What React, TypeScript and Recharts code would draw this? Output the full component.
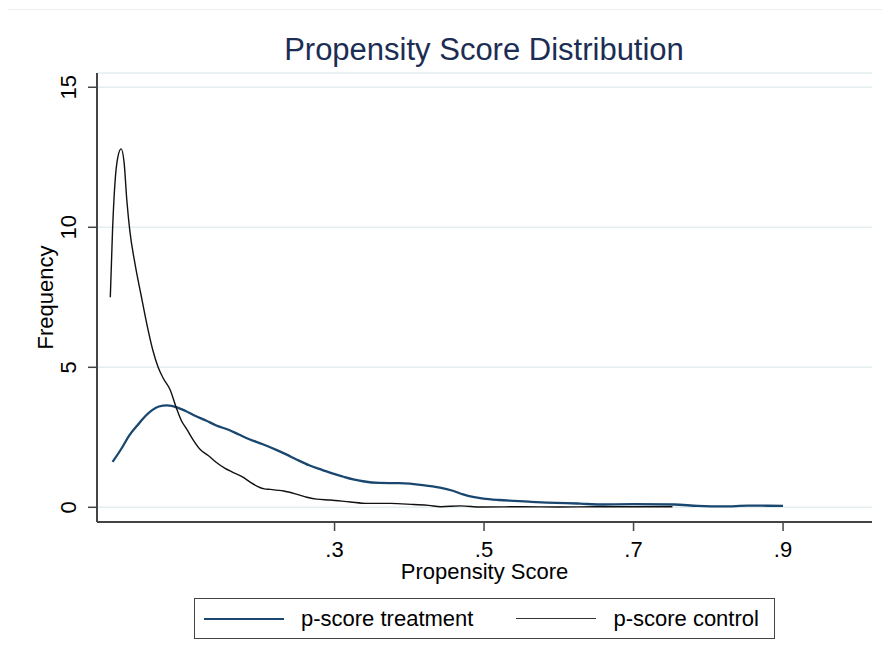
import React from "react";
import {
  LineChart, Line, XAxis, YAxis, CartesianGrid, Label,
} from "recharts";

// kernel density estimates of the propensity score, by group
const treatScore = [
  0.003, 0.015, 0.025, 0.037, 0.047, 0.056, 0.065, 0.076, 0.09, 0.1, 0.114, 0.128, 0.141, 0.159,
  0.172, 0.186, 0.204, 0.222, 0.236, 0.249, 0.266, 0.284, 0.298, 0.311, 0.325, 0.338, 0.36, 0.387,
  0.418, 0.441, 0.457, 0.472, 0.485, 0.499, 0.52, 0.539, 0.56, 0.584, 0.61, 0.629, 0.656, 0.7,
  0.754, 0.786, 0.821, 0.853, 0.9,
];
const treatDensity = [
  1.62, 2.1, 2.55, 2.95, 3.26, 3.47, 3.6, 3.64, 3.56, 3.45, 3.26, 3.1, 2.93, 2.76,
  2.6, 2.43, 2.25, 2.05, 1.88, 1.71, 1.5, 1.33, 1.2, 1.1, 1.0, 0.93, 0.87, 0.86,
  0.79, 0.7, 0.6, 0.46, 0.37, 0.31, 0.26, 0.23, 0.2, 0.17, 0.15, 0.13, 0.1, 0.11,
  0.1, 0.05, 0.03, 0.06, 0.05,
];

const controlScore = [
  0.0, 0.003, 0.006, 0.01, 0.0145, 0.0185, 0.022, 0.026, 0.033, 0.041, 0.05, 0.057, 0.064, 0.071,
  0.08, 0.089, 0.095, 0.102, 0.111, 0.12, 0.131, 0.142, 0.153, 0.164, 0.178, 0.187, 0.196, 0.206,
  0.214, 0.232, 0.25, 0.263, 0.276, 0.294, 0.321, 0.343, 0.375, 0.406, 0.426, 0.442, 0.469, 0.496,
  0.55, 0.6, 0.65, 0.7, 0.752,
];
const controlDensity = [
  7.5, 9.9, 11.5, 12.5, 12.8, 12.3, 11.0, 9.9, 8.7, 7.6, 6.4, 5.6, 5.0, 4.6,
  4.2, 3.5, 3.1, 2.8, 2.4, 2.07, 1.85, 1.6, 1.4, 1.25, 1.07, 0.9, 0.76, 0.66,
  0.64, 0.58, 0.46, 0.36, 0.29, 0.26, 0.19, 0.14, 0.14, 0.1, 0.07, 0.02, 0.05, 0.01,
  0.02, 0.01, 0.02, 0.02, 0.02,
];

const xTicks = [0.3, 0.5, 0.7, 0.9];
const yTicks = [0, 5, 10, 15];

const treatData = treatScore.map((x, i) => ({ x, y: treatDensity[i] }));
const controlData = controlScore.map((x, i) => ({ x, y: controlDensity[i] }));

const FONT = "'Liberation Sans', Arial, Helvetica, sans-serif";
const NAVY = "#1a476f";
const AXIS = "#444";

function XTick({ x, y, payload }: any) {
  const label = String(payload.value).replace(/^0/, "");
  return (
    <text x={x} y={y + 24} textAnchor="middle" fontSize={22} fontFamily={FONT} fill="#000">
      {label}
    </text>
  );
}

function YTick({ x, y, payload }: any) {
  const tx = x - 10;
  return (
    <text x={tx} y={y} transform={`rotate(-90, ${tx}, ${y})`} textAnchor="middle"
      fontSize={22} fontFamily={FONT} fill="#000">
      {payload.value}
    </text>
  );
}

function LegendBox() {
  const item = (color: string, width: number, text: string, gap: number) => (
    <div style={{ display: "flex", alignItems: "center", marginRight: gap }}>
      <div style={{ width: 80, height: width, background: color, marginRight: 17 }} />
      <span style={{ fontSize: 22, fontFamily: FONT, color: "#000" }}>{text}</span>
    </div>
  );
  return (
    <div style={{
      position: "absolute", left: 194, top: 598,
      width: 581, height: 41, border: `1.5px solid ${AXIS}`, display: "flex",
      alignItems: "center", boxSizing: "border-box", paddingLeft: 9, background: "#fff",
    }}>
      {item(NAVY, 2, "p-score treatment", 43)}
      {item("#333", 1.5, "p-score control", 0)}
    </div>
  );
}

export default function App() {
  return (
    <div style={{ position: "absolute", left: 0, top: 0, width: 882, height: 663, background: "#fff" }}>
      <div style={{ position: "absolute", left: 8, right: 0, top: 9, borderTop: "1px solid #eeeeee" }} />
      <div style={{
        position: "absolute", left: 0, width: 968, top: 30, textAlign: "center",
        fontSize: 31, fontFamily: FONT, color: "#1c2d54", lineHeight: "40px",
      }}>
        Propensity Score Distribution
      </div>
      <LineChart width={882} height={663} data={treatData}
        margin={{ top: 73, right: 10, bottom: 111, left: 37 }}
        style={{ position: "absolute", left: 0, top: 0 }}>
        <CartesianGrid horizontal vertical={false} stroke="#e4eef1" strokeWidth={1.5} />
        <XAxis dataKey="x" type="number" domain={[-0.0178, 1.019]} ticks={xTicks}
          allowDataOverflow height={30} tick={<XTick />} tickSize={9}
          axisLine={{ stroke: AXIS, strokeWidth: 2 }} tickLine={{ stroke: AXIS, strokeWidth: 1.5 }}>
          <Label content={({ viewBox }: any) => (
            <text x={viewBox.x + viewBox.width / 2} y={579} textAnchor="middle"
              fontSize={22} fontFamily={FONT} fill="#000">Propensity Score</text>
          )} />
        </XAxis>
        <YAxis dataKey="y" type="number" domain={[-0.525, 15.51]} ticks={yTicks}
          allowDataOverflow width={60} tick={<YTick />} tickSize={9}
          axisLine={{ stroke: AXIS, strokeWidth: 2 }} tickLine={{ stroke: AXIS, strokeWidth: 1.5 }}>
          <Label content={({ viewBox }: any) => {
            const cx = 53;
            const cy = viewBox.y + viewBox.height / 2;
            return (
              <text x={cx} y={cy} transform={`rotate(-90, ${cx}, ${cy})`} textAnchor="middle"
                fontSize={22} fontFamily={FONT} fill="#000">Frequency</text>
            );
          }} />
        </YAxis>
        <Line data={treatData} dataKey="y" name="p-score treatment" type="monotone"
          stroke={NAVY} strokeWidth={2.3} dot={false} isAnimationActive={false} />
        <Line data={controlData} dataKey="y" name="p-score control" type="monotone"
          stroke="#111" strokeWidth={1.4} dot={false} isAnimationActive={false} />
      </LineChart>
      <LegendBox />
    </div>
  );
}
